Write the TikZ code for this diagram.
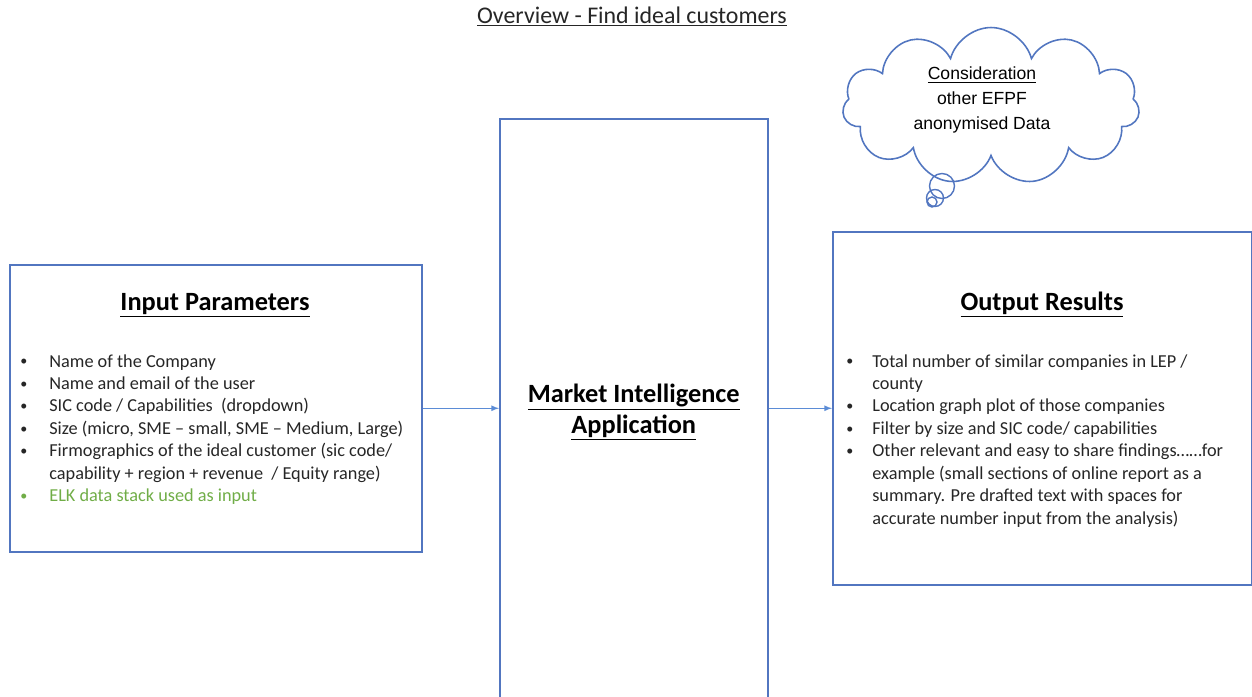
\documentclass[tikz,border=0pt]{standalone}
\usepackage{fontspec}
\setmainfont{Carlito}
\newfontfamily\arialfont{Liberation Sans}
\usetikzlibrary{shapes.symbols}

\definecolor{boxblue}{RGB}{82,118,192}
\definecolor{arrowblue}{RGB}{91,140,214}
\definecolor{elkgreen}{RGB}{112,173,71}

\newcommand{\bul}{\raisebox{0.15ex}{\fontsize{8}{8}\selectfont\textbullet}}

\tikzset{
  box/.style={draw=boxblue,line width=0.9pt,inner sep=0pt},
  heading/.style={font=\fontsize{15}{17.6}\selectfont\bfseries,inner sep=0pt},
  listtext/.style={font=\fontsize{10.4}{12.8}\selectfont,text=black!85,inner sep=0pt,anchor=base west},
  link/.style={arrowblue,line width=0.5pt,-latex}
}

\begin{document}
\begin{tikzpicture}[x=0.02cm,y=-0.02cm]
\useasboundingbox (0,0) rectangle (1252,697);
\clip (0,0) rectangle (1252,697);

\node[font=\fontsize{13.6}{16}\selectfont,text=black!85,inner sep=0pt,anchor=base] (title) at (632,23) {\underline{Overview - Find ideal customers}};

\node[box,minimum width=8.24cm,minimum height=5.74cm,anchor=north west] (inbox) at (9,264) {};
\node[box,minimum width=5.36cm,minimum height=11.74cm,anchor=north west,heading,align=center] (appbox) at (499,118)
  {\underline{Market Intelligence}\\\underline{Application}};
\node[box,minimum width=8.38cm,minimum height=7.06cm,anchor=north west] (outbox) at (832,231) {};

\node[heading,anchor=base] (inhead) at (215,310) {\underline{Input Parameters}};
\node[heading,anchor=base] (outhead) at (1042,310) {\underline{Output Results}};

\node[listtext] (inlist) at (20,367) {\begin{tabular}[t]{@{}p{0.58cm}@{}l@{}}
\bul & Name of the Company\\
\bul & Name and email of the user\\
\bul & SIC code / Capabilities~ (dropdown)\\
\bul & Size (micro, SME -- small, SME -- Medium, Large)\\
\bul & Firmographics of the ideal customer (sic code/\\
 & capability + region + revenue ~/ Equity range)\\
\textcolor{elkgreen}{\bul} & \textcolor{elkgreen}{ELK data stack used as input}
\end{tabular}};

\node[listtext] (outlist) at (846,367) {\begin{tabular}[t]{@{}p{0.52cm}@{}l@{}}
\bul & Total number of similar companies in LEP /\\
 & county\\
\bul & Location graph plot of those companies\\
\bul & Filter by size and SIC code/ capabilities\\
\bul & Other relevant and easy to share findings\ldots\ldots for\\
 & example (small sections of online report as a\\
 & summary. Pre drafted text with spaces for\\
 & accurate number input from the analysis)
\end{tabular}};

\draw[link] (inbox) -- (appbox.west |- inbox.east);
\draw[link] (appbox.east |- outbox.west) -- (outbox);

% thought bubble
\node[cloud,cloud puffs=11,aspect=1.9,draw=boxblue,line width=0.9pt,minimum width=5.94cm,minimum height=3.14cm] (cloud) at (991,106) {};
\node[font=\arialfont\fontsize{10}{14}\selectfont,align=center,inner sep=0pt] (cloudtext) at (982,100)
  {\underline{Consideration}\\other EFPF\\anonymised Data};
\draw[boxblue,line width=0.8pt] (942,186) circle [radius=0.25cm];
\draw[boxblue,line width=0.8pt] (935,198) circle [radius=0.17cm];
\draw[boxblue,line width=0.8pt] (932,202) circle [radius=0.1cm];
\end{tikzpicture}
\end{document}
